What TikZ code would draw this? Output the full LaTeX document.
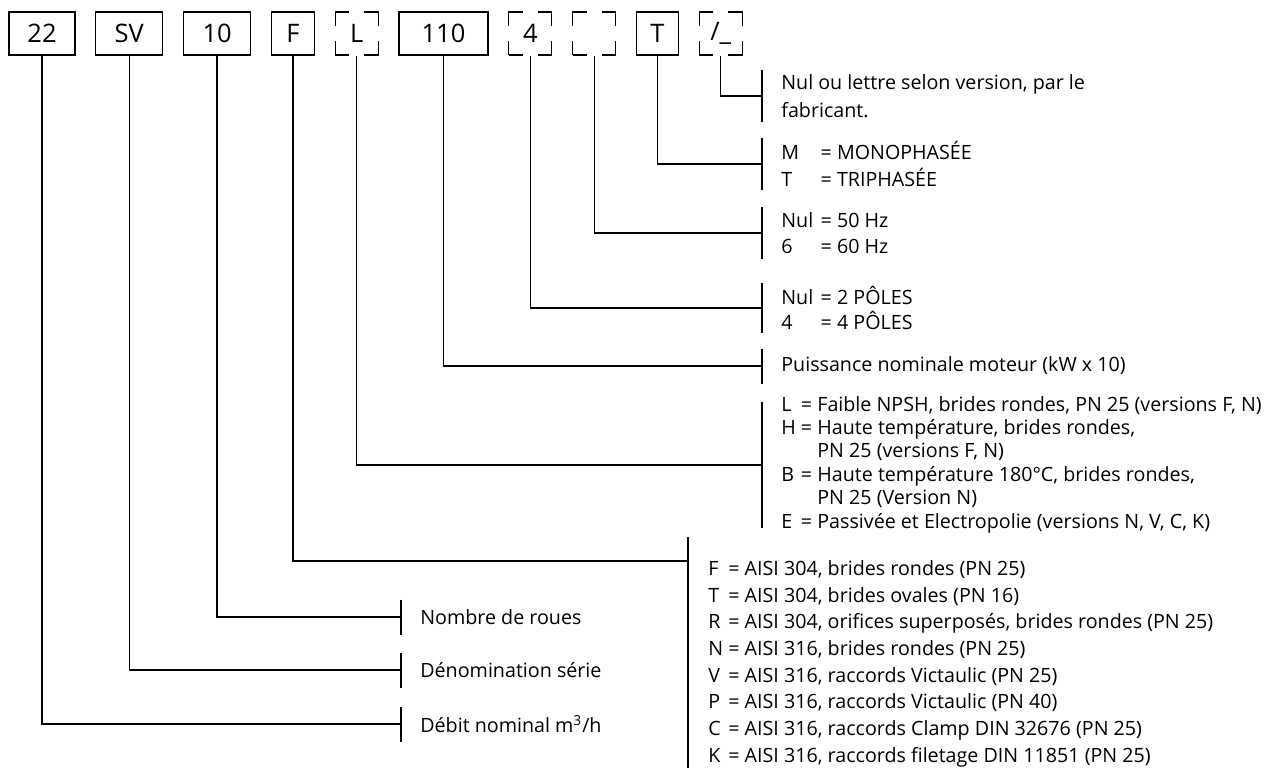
\documentclass[tikz,border=0pt]{standalone}
\usepackage{fontspec}
\setmainfont{Open Sans}
\usepackage{tikz}
\usetikzlibrary{positioning}

\newcommand{\kv}[2]{\makebox[2em][l]{#1}= #2}
\newcommand{\tagbar}[2]{\draw[link] ([shift={(-0.38cm,#2)}]#1.west) -- ([shift={(-0.38cm,-#2)}]#1.west);}

\begin{document}
\begin{tikzpicture}[
  x=0.02cm, y=-0.02cm,
  node distance=0.39cm,
  code/.style={draw, line width=0.75pt, minimum height=0.86cm, inner sep=0pt, font=\fontsize{14.5}{15}\selectfont},
  opt/.style={code, minimum width=0.86cm, dash pattern=on 0.56cm off 0.3cm, dash phase=0.28cm},
  lbl/.style={anchor=west, align=left, inner sep=0pt, font=\fontsize{11.2}{14.8}\selectfont},
  lbltab/.style={anchor=west, inner sep=0pt, font=\fontsize{11.2}{#1}\selectfont},
  link/.style={line width=0.7pt},
]
\useasboundingbox (0,0) rectangle (1280,767);

% Code boxes
\node[code, minimum width=1.32cm] (c22) at (42,33.5) {22};
\node[code, minimum width=1.34cm, right=of c22] (csv) {SV};
\node[code, minimum width=1.34cm, right=of csv] (c10) {10};
\node[code, minimum width=0.86cm, right=of c10] (cf) {F};
\node[opt, right=of cf] (cl) {L};
\node[code, minimum width=1.78cm, right=of cl] (c110) {110};
\node[opt, right=of c110] (c4) {4};
\node[opt, right=of c4] (cfreq) {};
\node[code, minimum width=0.84cm, right=of cfreq] (ct) {T};
\node[opt, right=of ct] (cver) {/\_};

% Labels, right column
\node[lbl, font=\fontsize{11.2}{15.6}\selectfont] (lver) at (781,96) {Nul ou lettre selon version, par le\\fabricant.};
\node[lbl, font=\fontsize{11.2}{15.2}\selectfont] (lphase) at (781,164) {\kv{M}{MONOPHASÉE}\\\kv{T}{TRIPHASÉE}};
\node[lbl, font=\fontsize{11.2}{14.4}\selectfont] (lfreq) at (781,233) {\kv{Nul}{50 Hz}\\\kv{6}{60 Hz}};
\node[lbl, font=\fontsize{11.2}{14.4}\selectfont] (lpole) at (781,308) {\kv{Nul}{2 PÔLES}\\\kv{4}{4 PÔLES}};
\node[lbl] (lkw) at (781,366) {Puissance nominale moteur (kW x 10)};
\node[lbltab=13.3] (lvar) at (781,465) {\begin{tabular}{@{}l@{ }l@{ }l@{}}
  L & = & Faible NPSH, brides rondes, PN 25 (versions F, N)\\
  H & = & Haute température, brides rondes,\\
    &   & PN 25 (versions F, N)\\
  B & = & Haute température 180°C, brides rondes,\\
    &   & PN 25 (Version N)\\
  E & = & Passivée et Electropolie (versions N, V, C, K)
\end{tabular}};
\node[lbltab=15.2] (lmat) at (708,663.5) {\begin{tabular}{@{}l@{ = }l@{}}
  F & AISI 304, brides rondes (PN 25)\\
  T & AISI 304, brides ovales (PN 16)\\
  R & AISI 304, orifices superposés, brides rondes (PN 25)\\
  N & AISI 316, brides rondes (PN 25)\\
  V & AISI 316, raccords Victaulic (PN 25)\\
  P & AISI 316, raccords Victaulic (PN 40)\\
  C & AISI 316, raccords Clamp DIN 32676 (PN 25)\\
  K & AISI 316, raccords filetage DIN 11851 (PN 25)
\end{tabular}};

% Labels, lower left
\node[lbl] (lroue) at (420,617) {Nombre de roues};
\node[lbl] (lserie) at (420,670) {Dénomination série};
\node[lbl] (ldebit) at (420,724) {Débit nominal m\textsuperscript{3}/h};

% Bars
\tagbar{lver}{0.53cm}
\tagbar{lphase}{0.52cm}
\tagbar{lfreq}{0.53cm}
\tagbar{lpole}{0.51cm}
\tagbar{lkw}{0.35cm}
\tagbar{lvar}{1.27cm}
\tagbar{lroue}{0.35cm}
\tagbar{lserie}{0.35cm}
\tagbar{ldebit}{0.35cm}
\draw[link] ([shift={(-0.4cm,2.53cm)}]lmat.west) -- ([shift={(-0.4cm,-2.2cm)}]lmat.west);
\coordinate (fjoin) at ([shift={(-0.4cm,2.05cm)}]lmat.west);

% Connectors
\draw[link] (cver.south) |- ([xshift=-0.38cm]lver.west);
\draw[link] (ct.south) |- ([xshift=-0.38cm]lphase.west);
\draw[link] (cfreq.south) |- ([xshift=-0.38cm]lfreq.west);
\draw[link] (c4.south) |- ([xshift=-0.38cm]lpole.west);
\draw[link] (c110.south) |- ([xshift=-0.38cm]lkw.west);
\draw[link] (cl.south) |- ([xshift=-0.38cm]lvar.west);
\draw[link] (cf.south) |- (fjoin);
\draw[link] (c10.south) |- ([xshift=-0.38cm]lroue.west);
\draw[link] (csv.south) |- ([xshift=-0.38cm]lserie.west);
\draw[link] (c22.south) |- ([xshift=-0.38cm]ldebit.west);

\end{tikzpicture}
\end{document}
